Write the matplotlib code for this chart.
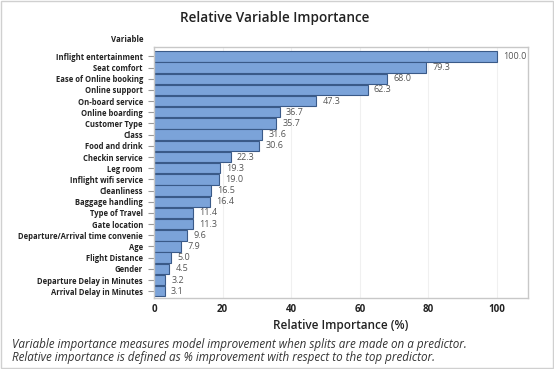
import numpy as np
import matplotlib
matplotlib.use("Agg")
import matplotlib.pyplot as plt

variables = [
    "Inflight entertainment", "Seat comfort", "Ease of Online booking",
    "Online support", "On-board service", "Online boarding", "Customer Type",
    "Class", "Food and drink", "Checkin service", "Leg room",
    "Inflight wifi service", "Cleanliness", "Baggage handling",
    "Type of Travel", "Gate location", "Departure/Arrival time convenie",
    "Age", "Flight Distance", "Gender", "Departure Delay in Minutes",
    "Arrival Delay in Minutes",
]
importance = [100.0, 79.3, 68.0, 62.3, 47.3, 36.7, 35.7, 31.6, 30.6, 22.3,
              19.3, 19.0, 16.5, 16.4, 11.4, 11.3, 9.6, 7.9, 5.0, 4.5, 3.2, 3.1]
xticks = [0, 20, 40, 60, 80, 100]

plt.rcParams['font.family'] = ['Open Sans', 'DejaVu Sans']

fig = plt.figure(figsize=(5.54, 3.69), dpi=100)
ax = fig.add_axes([0.278, 0.192, 0.675, 0.681])

y = np.arange(len(variables))
ax.barh(y, importance, height=0.93, color='#7BA3D9', edgecolor='#3A5A88', linewidth=0.8, zorder=2)
for yi, v in zip(y, importance):
    ax.text(v + 1.8, yi, f"{v:.1f}", va='center', ha='left', fontsize=6.5, color='#555555')

ax.set_ylim(len(variables) - 0.38, -0.85)
ax.set_xlim(0, 109)
ax.set_yticks(y)
ax.set_yticklabels(variables, fontsize=5.5, fontweight='bold', color='#222222')
ax.set_xticks(xticks)
ax.set_xticklabels([str(t) for t in xticks], fontsize=7, fontweight='bold', color='#222222')
ax.tick_params(axis='y', length=4, color='#999999', pad=4)
ax.tick_params(axis='x', length=0, pad=4)
ax.grid(axis='x', color='#f0f0f0', linewidth=0.8, zorder=0)
for s in ax.spines.values():
    s.set_color('#c8c8c8')
    s.set_linewidth(1.0)

ax.set_xlabel("Relative Importance (%)", fontsize=8.5, fontweight='semibold', color='#222222', labelpad=3)
fig.text(0.495, 0.952, "Relative Variable Importance", ha='center', va='center',
         fontsize=9.8, fontweight='semibold', color='#222222')
fig.text(0.259, 0.892, "Variable", ha='right', va='center', fontsize=5.7,
         fontweight='bold', color='#222222')
fig.text(0.022, 0.066, "Variable importance measures model improvement when splits are made on a predictor.",
         fontsize=8.4, style='italic', color='#333333', va='center')
fig.text(0.022, 0.030, "Relative importance is defined as % improvement with respect to the top predictor.",
         fontsize=8.4, style='italic', color='#333333', va='center')

fig.patches.append(plt.Rectangle((0.002, 0.002), 0.996, 0.996, transform=fig.transFigure,
                                 fill=False, edgecolor='#d0d0d0', linewidth=1))

fig.savefig("out.png", dpi=100)
